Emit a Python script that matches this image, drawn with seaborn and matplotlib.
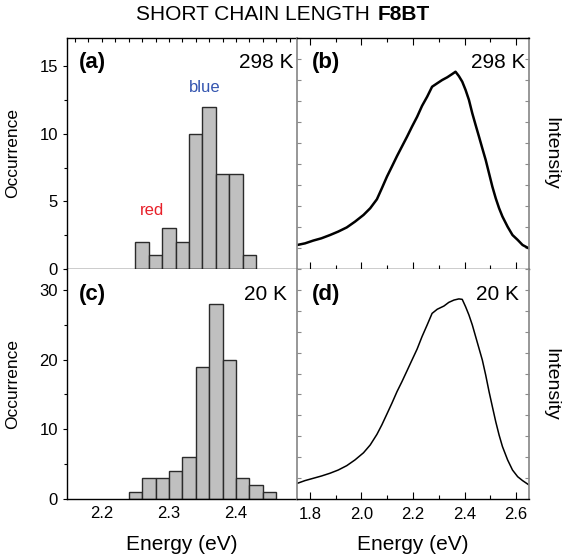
import numpy as np
import pandas as pd
import seaborn as sns
import matplotlib.pyplot as plt
from matplotlib.ticker import MultipleLocator, FixedLocator

# histogram data (bin left edge, eV)
bin_width = 0.02
a_bin_left = [2.25, 2.27, 2.29, 2.31, 2.33, 2.35, 2.37, 2.39, 2.41]
a_counts = [2, 1, 3, 2, 10, 12, 7, 7, 1]
c_bin_left = [2.24, 2.26, 2.28, 2.30, 2.32, 2.34, 2.36, 2.38, 2.40, 2.42, 2.44]
c_counts = [1, 3, 3, 4, 6, 19, 28, 20, 3, 2, 1]

# spectra (energy in eV, normalised intensity)
b_energy = [1.751, 1.781, 1.813, 1.845, 1.878, 1.910, 1.943, 1.975, 2.008, 2.034,
            2.060, 2.079, 2.099, 2.118, 2.138, 2.157, 2.177, 2.196, 2.216, 2.235,
            2.255, 2.274, 2.294, 2.313, 2.333, 2.352, 2.365, 2.378, 2.391, 2.404,
            2.417, 2.430, 2.443, 2.456, 2.469, 2.482, 2.495, 2.508, 2.521, 2.534,
            2.547, 2.567, 2.586, 2.606, 2.625, 2.650]
b_intensity = [0.104, 0.111, 0.123, 0.133, 0.147, 0.162, 0.180, 0.205, 0.234, 0.263,
               0.302, 0.349, 0.400, 0.443, 0.489, 0.530, 0.573, 0.616, 0.659, 0.706,
               0.746, 0.789, 0.804, 0.818, 0.830, 0.844, 0.854, 0.835, 0.811, 0.775,
               0.732, 0.674, 0.623, 0.573, 0.522, 0.472, 0.414, 0.356, 0.306, 0.263,
               0.227, 0.183, 0.147, 0.126, 0.104, 0.089]
d_energy = [1.751, 1.781, 1.813, 1.845, 1.878, 1.910, 1.943, 1.975, 2.008, 2.034,
            2.060, 2.079, 2.099, 2.118, 2.138, 2.157, 2.177, 2.196, 2.216, 2.235,
            2.255, 2.274, 2.294, 2.320, 2.339, 2.359, 2.378, 2.391, 2.404, 2.417,
            2.430, 2.443, 2.456, 2.469, 2.482, 2.495, 2.508, 2.521, 2.534, 2.547,
            2.567, 2.586, 2.606, 2.625, 2.650]
d_intensity = [0.068, 0.080, 0.090, 0.100, 0.112, 0.126, 0.145, 0.170, 0.201, 0.235,
               0.281, 0.322, 0.370, 0.416, 0.467, 0.510, 0.558, 0.604, 0.652, 0.706,
               0.757, 0.807, 0.825, 0.839, 0.855, 0.865, 0.870, 0.868, 0.836, 0.800,
               0.757, 0.706, 0.655, 0.604, 0.539, 0.467, 0.401, 0.336, 0.278, 0.228,
               0.170, 0.126, 0.097, 0.080, 0.061]

sns.set_theme(style="ticks")
plt.rcParams['font.family'] = ['Liberation Sans', 'DejaVu Sans']
plt.rcParams.update({'text.color': 'black', 'axes.labelcolor': 'black',
                     'xtick.color': 'black', 'ytick.color': 'black',
                     'axes.edgecolor': 'black'})

fig = plt.figure(figsize=(5.7, 5.59), dpi=100)
W, H = 570, 559


def box(x0, y0, x1, y1):
    return [x0 / W, 1 - y1 / H, (x1 - x0) / W, (y1 - y0) / H]


ax_a = fig.add_axes(box(67, 38, 297, 269))
ax_b = fig.add_axes(box(297, 38, 529, 269))
ax_c = fig.add_axes(box(67, 269, 297, 499))
ax_d = fig.add_axes(box(297, 269, 529, 499))

bar_face = '#c0c0c0'
bar_edge = '#2b2b2b'
gray = '#8a8a8a'

# histograms
for ax, left, counts in [(ax_a, a_bin_left, a_counts), (ax_c, c_bin_left, c_counts)]:
    df = pd.DataFrame({'energy': np.array(left) + bin_width / 2, 'n': counts})
    edges = list(left) + [left[-1] + bin_width]
    sns.histplot(data=df, x='energy', weights='n', bins=edges, ax=ax,
                 color=bar_face, edgecolor=bar_edge, linewidth=1, alpha=1)
    ax.set_xlim(2.148, 2.491)
    ax.spines['right'].set_visible(False)
    ax.set_ylabel('Occurrence', fontsize=12.5)
    ax.yaxis.set_label_coords(-0.205, 0.5)
    ax.tick_params(axis='y', direction='out', length=3, width=0.8, labelsize=12)
    ax.tick_params(axis='y', which='minor', direction='out', length=2, width=0.8)

ax_a.set_ylim(0, 17.07)
ax_a.yaxis.set_major_locator(MultipleLocator(5))
ax_a.yaxis.set_minor_locator(MultipleLocator(2.5))
ax_a.set_xlabel('')
ax_a.tick_params(axis='x', bottom=False, labelbottom=False, top=True, direction='in',
                 length=3, width=0.8)
ax_a.xaxis.set_major_locator(MultipleLocator(0.02))

ax_c.set_ylim(0, 33)
ax_c.yaxis.set_major_locator(MultipleLocator(10))
ax_c.yaxis.set_minor_locator(MultipleLocator(5))
ax_c.spines['top'].set_visible(False)
ax_c.xaxis.set_major_locator(FixedLocator([2.2, 2.3, 2.4]))
ax_c.tick_params(axis='x', length=0, labelsize=12, pad=5)
ax_c.set_xlabel('Energy (eV)', fontsize=15)
ax_c.xaxis.set_label_coords(0.5, -0.155)

# spectra
for ax, en, inten, lw in [(ax_b, b_energy, b_intensity, 1.8), (ax_d, d_energy, d_intensity, 1.1)]:
    sns.lineplot(x=en, y=inten, ax=ax, color='black', linewidth=lw)
    ax.set_xlim(1.75, 2.65)
    ax.set_ylim(0, 1)
    ax.yaxis.set_major_locator(FixedLocator(np.linspace(0, 1, 12)))
    ax.tick_params(axis='y', left=True, right=True, direction='in', length=3,
                   width=0.8, labelleft=False, colors=gray)
    ax.spines['left'].set_color(gray)
    ax.spines['right'].set_color(gray)
    ax.set_ylabel('Intensity', fontsize=14, rotation=270)
    ax.yaxis.set_label_position('right')
    ax.yaxis.set_label_coords(1.13, 0.5)
    ax.xaxis.set_major_locator(MultipleLocator(0.2))
    ax.xaxis.set_minor_locator(MultipleLocator(0.1))

ax_b.tick_params(axis='x', which='both', bottom=True, top=True, direction='in',
                 labelbottom=False, width=0.8)
ax_b.tick_params(axis='x', which='major', length=5)
ax_b.tick_params(axis='x', which='minor', length=3)

ax_d.spines['top'].set_visible(False)
ax_d.tick_params(axis='x', which='both', bottom=True, top=False, direction='in', width=0.8)
ax_d.tick_params(axis='x', which='major', length=5, labelsize=12, pad=6)
ax_d.tick_params(axis='x', which='minor', length=3)
ax_d.set_xlabel('Energy (eV)', fontsize=15)
ax_d.xaxis.set_label_coords(0.5, -0.155)

# panel annotations
panels = [(ax_a, '(a)', '298 K', 0.052, 0.983, 0.892),
          (ax_b, '(b)', '298 K', 0.065, 0.983, 0.892),
          (ax_c, '(c)', '20 K', 0.052, 0.957, 0.887),
          (ax_d, '(d)', '20 K', 0.065, 0.957, 0.887)]
for ax, lab, temp, xl, xr, y in panels:
    ax.text(xl, y, lab, transform=ax.transAxes, fontsize=16, fontweight='bold',
            ha='left', va='center')
    ax.text(xr, y, temp, transform=ax.transAxes, fontsize=15, ha='right', va='center')

ax_a.text(2.353, 13.4, 'blue', color='#3556b0', fontsize=12, ha='center', va='center')
ax_a.text(2.275, 4.3, 'red', color='#e8202a', fontsize=12, ha='center', va='center')

# title
fig.text(376 / W, 1 - 15 / H, 'SHORT CHAIN LENGTH ', fontsize=15,
         ha='right', va='center')
fig.text(378 / W, 1 - 15 / H, 'F8BT', fontsize=15, fontweight='bold',
         ha='left', va='center')

for ax in (ax_a, ax_b, ax_c, ax_d):
    for s in ('left', 'bottom', 'top'):
        if ax in (ax_b, ax_d) and s == 'left':
            continue
        ax.spines[s].set_linewidth(1.0)
    ax.set_facecolor('white')

fig.savefig('out.png', dpi=100, facecolor='white')
